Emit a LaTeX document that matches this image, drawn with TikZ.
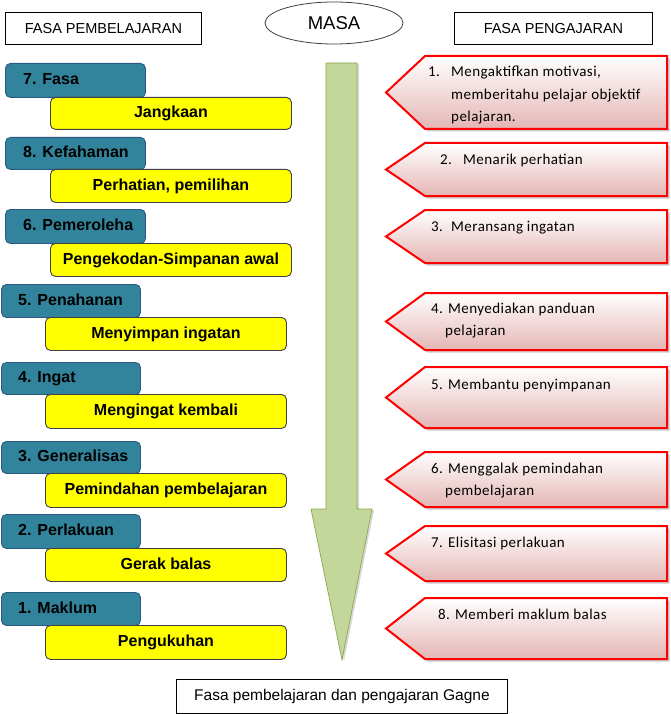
\documentclass[tikz,border=0pt]{standalone}
\usepackage{fontspec}
\usetikzlibrary{shapes.geometric}
\setmainfont{Liberation Sans}
\newfontfamily\calfont{Carlito}[LetterSpace=3]
\definecolor{blueA}{HTML}{31849B}
\definecolor{blueB}{HTML}{2A5A82}
\definecolor{yellA}{HTML}{FFFF00}
\definecolor{yellB}{HTML}{404040}
\definecolor{pinkB}{HTML}{E4B6B5}
\definecolor{greenL}{HTML}{C4D79B}
\definecolor{greenD}{HTML}{9DBB5E}
\definecolor{greenE}{HTML}{8AA84E}
\begin{document}
\begin{tikzpicture}[x=1pt,y=-1pt,
  bluebox/.style={draw=blueB, fill=blueA, line width=0.9pt, rounded corners=5pt, anchor=north west, minimum height=#1, inner sep=0pt},
  yellbox/.style={draw=yellB, fill=yellA, line width=0.9pt, rounded corners=5pt, anchor=north west, minimum width=241pt, minimum height=#1, inner sep=0pt, font=\fontsize{16}{19}\selectfont\bfseries, text height=12pt, text depth=3pt},
  bluetxt/.style={anchor=base west, inner sep=0pt, font=\fontsize{16}{19}\selectfont\bfseries},
  hdrbox/.style={draw=black, line width=0.9pt, anchor=north west, inner sep=0pt, font=\fontsize{14.5}{17}\selectfont},
  rtxt/.style={anchor=base west, inner sep=0pt, font=\calfont\fontsize{15}{18}\selectfont},
  redshape/.style={draw=red, line width=2pt, top color=white, bottom color=pinkB},
  shadowshape/.style={fill=black!45, opacity=0.45}
]
\useasboundingbox (0,0) rectangle (671,714);
\fill[white] (0,0) rectangle (671,714);

% headers
\node[hdrbox, minimum width=196pt, minimum height=32pt] (hL) at (5,12) {FASA PEMBELAJARAN};
\node[hdrbox, minimum width=198pt, minimum height=32pt] (hR) at (454,12) {FASA PENGAJARAN};
\node[draw=black!75, line width=0.8pt, ellipse, minimum width=138pt, minimum height=42pt, inner sep=0pt, font=\fontsize{18.5}{21}\selectfont] (masa) at (334,23) {MASA};
\node[hdrbox, minimum width=331pt, minimum height=34pt, font=\fontsize{15.5}{18}\selectfont] (cap) at (176,679) {Fasa pembelajaran dan pengajaran Gagne};

% green arrow
\fill[black!30, opacity=0.5, shift={(2,1)}] (326,63) -- (357,63) -- (357,509) -- (372,509) -- (342,660) -- (311,509) -- (326,509) -- cycle;
\draw[draw=greenE, line width=0.7pt, top color=greenL, middle color=greenD, bottom color=greenL]
  (326,63) -- (357,63) -- (357,509) -- (372,509) -- (342,660) -- (311,509) -- (326,509) -- cycle;

% left column
\node[bluebox=34pt, minimum width=140pt] (b1) at (5,63) {};
\node[bluetxt] (bt1) at (23,84.5) {7. Fasa};
\node[yellbox=32pt] (y1) at (50,97) {Jangkaan};

\node[bluebox=32pt, minimum width=140pt] (b2) at (5,137) {};
\node[bluetxt] (bt2) at (23,157.5) {8. Kefahaman};
\node[yellbox=33pt] (y2) at (50,169) {Perhatian, pemilihan};

\node[bluebox=34pt, minimum width=140pt] (b3) at (5,209) {};
\node[bluetxt] (bt3) at (23,230.5) {6. Pemeroleha};
\node[yellbox=33pt] (y3) at (50,243) {Pengekodan-Simpanan awal};

\node[bluebox=33pt, minimum width=139pt] (b4) at (1,284) {};
\node[bluetxt] (bt4) at (18,305) {5. Penahanan};
\node[yellbox=33pt] (y4) at (45,317) {Menyimpan ingatan};

\node[bluebox=32pt, minimum width=139pt] (b5) at (1,362) {};
\node[bluetxt] (bt5) at (18,382.5) {4. Ingat};
\node[yellbox=34pt] (y5) at (45,394) {Mengingat kembali};

\node[bluebox=32pt, minimum width=139pt] (b6) at (1,441) {};
\node[bluetxt] (bt6) at (18,461.5) {3. Generalisas};
\node[yellbox=34pt] (y6) at (45,473) {Pemindahan pembelajaran};

\node[bluebox=34pt, minimum width=139pt] (b7) at (1,514) {};
\node[bluetxt] (bt7) at (18,535.5) {2. Perlakuan};
\node[yellbox=33pt] (y7) at (45,548) {Gerak balas};

\node[bluebox=33pt, minimum width=139pt] (b8) at (1,592) {};
\node[bluetxt] (bt8) at (18,613) {1. Maklum};
\node[yellbox=34pt] (y8) at (45,625) {Pengukuhan};

% right column shapes
\foreach \t/\b in {56/129, 143/196, 210/263, 293/350, 367/428, 452/507, 526/581, 598/659}{
  \fill[shadowshape, shift={(2.5,2.5)}] (386,{(\t+\b)/2}) -- (425,\t) -- (667,\t) -- (667,\b) -- (425,\b) -- cycle;
  \draw[redshape] (386,{(\t+\b)/2}) -- (425,\t) -- (667,\t) -- (667,\b) -- (425,\b) -- cycle;
}

\node[rtxt] (r1n) at (428,77) {1.};
\node[rtxt] (r1a) at (451,77) {Mengaktifkan motivasi,};
\node[rtxt] (r1b) at (451,100) {memberitahu pelajar objektif};
\node[rtxt] (r1c) at (451,121.5) {pelajaran.};

\node[rtxt] (r2n) at (440,164.5) {2.};
\node[rtxt] (r2a) at (463,164.5) {Menarik perhatian};

\node[rtxt] (r3n) at (431,231) {3.};
\node[rtxt] (r3a) at (451,231) {Meransang ingatan};

\node[rtxt] (r4a) at (431,313) {4. Menyediakan panduan};
\node[rtxt] (r4b) at (445,335) {pelajaran};

\node[rtxt] (r5a) at (431,389) {5. Membantu penyimpanan};

\node[rtxt] (r6a) at (431,473) {6. Menggalak pemindahan};
\node[rtxt] (r6b) at (445,495) {pembelajaran};

\node[rtxt] (r7a) at (431,547) {7. Elisitasi perlakuan};

\node[rtxt] (r8a) at (438,619.5) {8. Memberi maklum balas};
\end{tikzpicture}
\end{document}
